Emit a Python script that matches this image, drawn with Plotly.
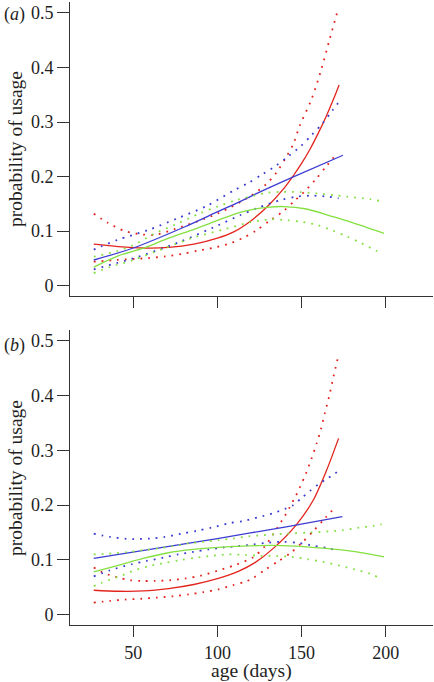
import plotly.graph_objects as go

# ---------------- Panel (a) data ----------------
a_red_x = [26.5, 41, 56, 71, 86, 100, 110, 120, 130, 140, 145, 150, 155, 160, 165, 169, 172.3]
a_red_y = [0.076, 0.0717, 0.069, 0.070, 0.076, 0.087, 0.099, 0.119, 0.146, 0.180, 0.201, 0.224, 0.25, 0.28, 0.313, 0.342, 0.368]
a_red_up_x = [26.5, 35, 45, 55, 63, 75, 100, 120, 129, 135, 140, 145, 149, 155.6, 161.5, 166.7, 172]
a_red_up_y = [0.132, 0.115, 0.100, 0.094, 0.093, 0.104, 0.132, 0.165, 0.186, 0.207, 0.231, 0.259, 0.294, 0.339, 0.394, 0.452, 0.51]
a_red_lo_x = [26.5, 40, 59, 69, 79, 88, 97, 106, 115, 123, 131, 139, 146, 152, 159, 165, 171]
a_red_lo_y = [0.044, 0.047, 0.0505, 0.0535, 0.058, 0.064, 0.069, 0.076, 0.087, 0.101, 0.119, 0.136, 0.156, 0.173, 0.197, 0.22, 0.242]

a_blue_x = [26.5, 50, 80.7, 100.5, 113.4, 121.3, 144.1, 174.6]
a_blue_y = [0.047, 0.069, 0.108, 0.136, 0.154, 0.166, 0.198, 0.239]
a_blue_up_x = [26.5, 31, 40.7, 58.9, 76.4, 93.6, 110, 118.5, 126.7, 134.8, 142.1, 149.7, 156, 162.3, 168.3, 174]
a_blue_up_y = [0.066, 0.072, 0.084, 0.102, 0.1235, 0.146, 0.175, 0.1885, 0.204, 0.22, 0.237, 0.256, 0.276, 0.297, 0.321, 0.344]
a_blue_lo_x = [26.5, 50, 76.7, 100, 113.4, 124.3, 137.8, 146.9, 156, 165.9, 172]
a_blue_lo_y = [0.030, 0.05, 0.079, 0.11, 0.129, 0.143, 0.157, 0.163, 0.165, 0.163, 0.16]

a_green_x = [26.5, 41, 56, 71, 86, 100.5, 113, 121.3, 129.3, 139.1, 153, 166.9, 178.8, 199]
a_green_y = [0.034, 0.0547, 0.0688, 0.087, 0.103, 0.12, 0.134, 0.14, 0.1436, 0.145, 0.1405, 0.128, 0.117, 0.096]
a_green_up_x = [26.5, 40, 50, 62.9, 75, 89.6, 100, 111.4, 129.3, 139, 149, 159, 169, 177, 187, 196]
a_green_up_y = [0.053, 0.063, 0.074, 0.096, 0.112, 0.1326, 0.145, 0.157, 0.170, 0.172, 0.1715, 0.169, 0.166, 0.163, 0.16, 0.1556]
a_green_lo_x = [26.5, 36, 50, 68.8, 86.7, 104.5, 118.5, 131.2, 141.2, 150.1, 159.4, 168.5, 177.1, 185.4, 194.3, 198.3]
a_green_lo_y = [0.023, 0.034, 0.047, 0.069, 0.089, 0.1035, 0.1155, 0.1217, 0.12, 0.117, 0.111, 0.101, 0.09, 0.078, 0.064, 0.058]

# ---------------- Panel (b) data ----------------
b_red_x = [26.5, 41, 56, 71, 86, 100.5, 112.4, 122.3, 133.2, 147.1, 156.9, 164.9, 172]
b_red_y = [0.0445, 0.0427, 0.0432, 0.0476, 0.055, 0.066, 0.079, 0.095, 0.121, 0.165, 0.209, 0.264, 0.322]
b_red_up_x = [26.5, 31.2, 36.1, 41.1, 48, 55, 63, 72, 81, 90, 100, 110, 121.3, 128.3, 134.2, 140, 143.1, 146.6, 149, 152.6, 156, 159, 161.6, 163.9, 166.5, 169, 171.8]
b_red_up_y = [0.086, 0.078, 0.072, 0.0677, 0.0628, 0.0615, 0.0615, 0.0628, 0.066, 0.071, 0.08, 0.09, 0.105, 0.125, 0.152, 0.18, 0.197, 0.217, 0.2326, 0.258, 0.2857, 0.313, 0.34, 0.369, 0.40, 0.435, 0.472]
b_red_lo_x = [26.5, 36.1, 45.1, 55, 63.9, 73.8, 82.8, 91.7, 100.5, 109.4, 116.4, 121.3, 128.3, 136.2, 143.6, 150.4, 157.4, 163.9, 170.5]
b_red_lo_y = [0.022, 0.025, 0.0275, 0.029, 0.031, 0.0335, 0.037, 0.041, 0.046, 0.054, 0.06, 0.067, 0.082, 0.0976, 0.113, 0.132, 0.154, 0.176, 0.198]

b_blue_x = [26.5, 60, 100, 140, 174.2]
b_blue_y = [0.1026, 0.119, 0.139, 0.160, 0.179]
b_blue_up_x = [26.5, 36.1, 46.1, 50.6, 59.9, 68.8, 78.8, 87.7, 96.6, 106.5, 115.4, 124.7, 133.8, 140, 145, 150, 155, 160, 165, 170, 173.5]
b_blue_up_y = [0.148, 0.142, 0.1385, 0.138, 0.139, 0.142, 0.148, 0.153, 0.159, 0.1667, 0.171, 0.178, 0.186, 0.193, 0.20, 0.213, 0.226, 0.238, 0.248, 0.258, 0.267]
b_blue_lo_x = [26.5, 36.1, 49, 57.9, 67.8, 76.7, 85.7, 94.6, 103.5, 112.4, 121.3, 128.9, 139.1, 148, 157.4, 166.6, 171.4]
b_blue_lo_y = [0.070, 0.081, 0.092, 0.098, 0.104, 0.11, 0.1147, 0.119, 0.1227, 0.125, 0.128, 0.131, 0.133, 0.131, 0.1257, 0.121, 0.1165]

b_green_x = [26.5, 41.1, 55.9, 70.8, 85.7, 100.5, 114.5, 133.2, 153, 168.9, 182.8, 199]
b_green_y = [0.078, 0.090, 0.1026, 0.113, 0.119, 0.1227, 0.125, 0.1264, 0.1238, 0.1196, 0.1147, 0.1055]
b_green_up_x = [26.5, 37.2, 46.1, 55.9, 64.9, 73.8, 82.8, 91.7, 100.5, 109.4, 118.3, 141.2, 155, 174.2, 184, 192.6, 197.6]
b_green_up_y = [0.110, 0.1117, 0.114, 0.1178, 0.121, 0.125, 0.13, 0.133, 0.136, 0.139, 0.143, 0.148, 0.150, 0.154, 0.159, 0.162, 0.165]
b_green_lo_x = [26.5, 31.2, 36.1, 41.1, 50, 59, 68.8, 77.7, 86.7, 96.6, 106.5, 116.4, 125.3, 134.8, 144.1, 154, 162.9, 172.2, 181.7, 190.5, 194.9]
b_green_lo_y = [0.052, 0.058, 0.064, 0.069, 0.080, 0.0885, 0.0945, 0.0995, 0.1037, 0.1073, 0.11, 0.109, 0.1075, 0.107, 0.1055, 0.101, 0.0964, 0.090, 0.0824, 0.075, 0.069]

x_ticks = [50, 100, 150, 200]
y_ticks = [0, 0.1, 0.2, 0.3, 0.4, 0.5]
y_tick_labels = ["0", "0.1", "0.2", "0.3", "0.4", "0.5"]

RED = "#e3241e"
BLUE = "#3c3cd2"
GREEN = "#84e040"
FONT = "Liberation Serif"
AXC = "#333333"
TXT = "#1e1e1e"

fig = go.Figure()

def add(x, y, color, dotted, xa, ya):
    fig.add_trace(go.Scatter(
        x=x, y=y, mode="lines", xaxis=xa, yaxis=ya, showlegend=False,
        hoverinfo="skip",
        line=dict(color=color, width=1.8 if dotted else 1.3,
                  dash="1.8px,6px" if dotted else "solid",
                  shape="spline", smoothing=0.8)))

panels = [
    ("x2", "y2", [(a_red_x, a_red_y, RED, False), (a_red_up_x, a_red_up_y, RED, True), (a_red_lo_x, a_red_lo_y, RED, True),
                  (a_blue_x, a_blue_y, BLUE, False), (a_blue_up_x, a_blue_up_y, BLUE, True), (a_blue_lo_x, a_blue_lo_y, BLUE, True),
                  (a_green_x, a_green_y, GREEN, False), (a_green_up_x, a_green_up_y, GREEN, True), (a_green_lo_x, a_green_lo_y, GREEN, True)]),
    ("x", "y", [(b_red_x, b_red_y, RED, False), (b_red_up_x, b_red_up_y, RED, True), (b_red_lo_x, b_red_lo_y, RED, True),
                (b_blue_x, b_blue_y, BLUE, False), (b_blue_up_x, b_blue_up_y, BLUE, True), (b_blue_lo_x, b_blue_lo_y, BLUE, True),
                (b_green_x, b_green_y, GREEN, False), (b_green_up_x, b_green_up_y, GREEN, True), (b_green_lo_x, b_green_lo_y, GREEN, True)]),
]
for xa, ya, series in panels:
    for x, y, c, d in series:
        add(x, y, c, d, xa, ya)

W, H = 434, 682
ML, MR, MT, MB = 70, 1, 2, 57
PH = H - MT - MB
PW = W - ML - MR

def py(p):
    return (H - MB - p) / PH

def pxp(p):
    return (p - ML) / PW

xcommon = dict(range=[12.4, 228.1], showgrid=False, zeroline=False, showline=True,
               linecolor=AXC, linewidth=1, ticks="outside", ticklen=11, tickwidth=1,
               tickcolor=AXC, tickvals=x_ticks, mirror=False, automargin=False,
               tickfont=dict(family=FONT, size=18, color=TXT))
ycommon = dict(range=[-0.019, 0.52], showgrid=False, zeroline=False, showline=True,
               linecolor=AXC, linewidth=1, ticks="outside", ticklen=12, tickwidth=1,
               tickcolor=AXC, tickvals=y_ticks, ticktext=y_tick_labels, automargin=False,
               tickfont=dict(family=FONT, size=18, color=TXT))

fig.update_layout(
    template="none",
    width=W, height=H,
    margin=dict(l=ML, r=MR, t=MT, b=MB, autoexpand=False),
    paper_bgcolor="white", plot_bgcolor="white",
    xaxis=dict(**xcommon, anchor="y", domain=[0, 1]),
    yaxis=dict(**ycommon, anchor="x", domain=[0, py(330)]),
    xaxis2=dict(**xcommon, anchor="y2", domain=[0, 1], showticklabels=False),
    yaxis2=dict(**ycommon, anchor="x2", domain=[py(296), 1]),
    annotations=[
        dict(text="(<i>a</i>)", x=pxp(2), y=py(15), xref="paper", yref="paper",
             xanchor="left", yanchor="middle", showarrow=False,
             font=dict(family=FONT, size=18, color=TXT)),
        dict(text="(<i>b</i>)", x=pxp(2), y=py(345), xref="paper", yref="paper",
             xanchor="left", yanchor="middle", showarrow=False,
             font=dict(family=FONT, size=18, color=TXT)),
        dict(text="probability of usage", x=pxp(15), y=py(149), xref="paper", yref="paper",
             xanchor="center", yanchor="middle", textangle=-90, showarrow=False,
             font=dict(family=FONT, size=19.5, color=TXT)),
        dict(text="probability of usage", x=pxp(15), y=py(478), xref="paper", yref="paper",
             xanchor="center", yanchor="middle", textangle=-90, showarrow=False,
             font=dict(family=FONT, size=19.5, color=TXT)),
        dict(text="age (days)", x=pxp(251), y=py(671), xref="paper", yref="paper",
             xanchor="center", yanchor="middle", showarrow=False,
             font=dict(family=FONT, size=19.5, color=TXT)),
    ],
)

fig.write_html("out.html",
               config={"displayModeBar": False},
               post_script="document.body.style.margin='0';document.body.style.padding='0';")
